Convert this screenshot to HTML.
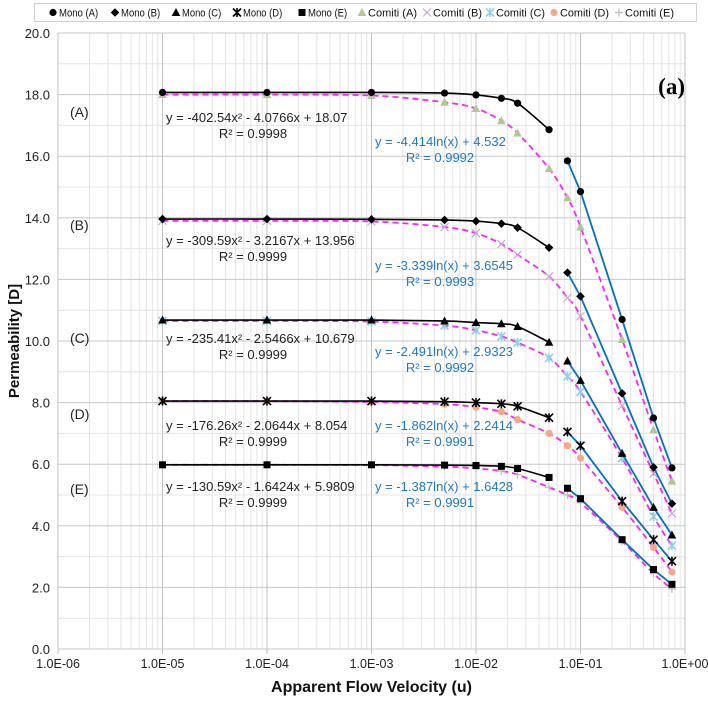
<!DOCTYPE html>
<html><head><meta charset="utf-8"><style>
body{margin:0;background:#fff;}
svg text{font-family:"Liberation Sans",sans-serif;}
</style></head><body>
<svg id="chart" width="708" height="698" viewBox="0 0 708 698" xmlns="http://www.w3.org/2000/svg">
<g id="grid"></g>
<g id="axes"></g>
<g id="series"></g>
<g id="ann">
<text x="685" y="94" text-anchor="end" font-family="Liberation Serif" font-weight="bold" font-size="23" style="font-family:'Liberation Serif',serif">(a)</text>
</g>
<g id="legend"></g>
</svg>
<script>
const xVals=[1e-5,1e-4,1e-3,5e-3,1e-2,1.75e-2,2.5e-2,5e-2,7.5e-2,0.1,0.25,0.5,0.75];
const nPoly=8;
const monoA=[18.07,18.07,18.07,18.05,17.99,17.88,17.72,16.86,15.85,14.85,10.7,7.5,5.88];
const monoB=[13.96,13.96,13.95,13.93,13.89,13.81,13.68,13.03,12.22,11.45,8.3,5.9,4.72];
const monoC=[10.68,10.68,10.68,10.65,10.6,10.56,10.47,9.96,9.35,8.72,6.35,4.6,3.7];
const monoD=[8.05,8.05,8.05,8.03,8.0,7.96,7.88,7.51,7.05,6.6,4.8,3.55,2.85];
const monoE=[5.98,5.98,5.98,5.97,5.96,5.93,5.86,5.57,5.22,4.88,3.55,2.58,2.1];
const comA=[18.0,18.0,17.97,17.75,17.55,17.15,16.75,15.6,14.65,13.7,10.05,7.12,5.45];
const comB=[13.9,13.9,13.88,13.7,13.5,13.15,12.8,12.1,11.4,10.8,7.9,5.7,4.4];
const comC=[10.65,10.65,10.63,10.5,10.35,10.15,9.95,9.45,8.85,8.35,6.2,4.3,3.35];
const comD=[8.05,8.05,8.02,7.95,7.85,7.7,7.45,7.0,6.6,6.2,4.6,3.3,2.5];
const comE=[5.98,5.98,5.97,5.92,5.86,5.78,5.66,5.25,5.0,4.75,3.5,2.45,1.95];
const yTicks=[0,2,4,6,8,10,12,14,16,18,20];
const xTickLabels=["1.0E-06","1.0E-05","1.0E-04","1.0E-03","1.0E-02","1.0E-01","1.0E+00"];

const NS="http://www.w3.org/2000/svg";
const L=58,R=685,T=33,B=649;
const X=v=>L+(Math.log10(v)+6)*(R-L)/6;
const Y=v=>B-v*(B-T)/20;
function mk(tag,attrs,parent){const e=document.createElementNS(NS,tag);for(const k in attrs)e.setAttribute(k,attrs[k]);parent.appendChild(e);return e;}
const grid=document.getElementById('grid'),axes=document.getElementById('axes'),ser=document.getElementById('series'),leg=document.getElementById('legend');
for(let v=1;v<20;v+=2){const l=mk('line',{x1:L,x2:R,y1:Y(v),y2:Y(v),stroke:'#e4e4e4','stroke-width':1},grid);

}
for(let d=-6;d<0;d++)for(let m=2;m<10;m++){const xx=X(m*Math.pow(10,d));const l=mk('line',{x1:xx,x2:xx,y1:T,y2:B,stroke:'#e4e4e4','stroke-width':1},grid);

}
yTicks.forEach(v=>{const l=mk('line',{x1:L,x2:R,y1:Y(v),y2:Y(v),stroke:'#c8c8c8','stroke-width':1},grid);


const t=mk('text',{x:L-8,y:Y(v)+5,'text-anchor':'end','font-size':13,fill:'#222'},axes);t.textContent=v.toFixed(1);

});
xTickLabels.forEach((s,i)=>{const xx=L+i*(R-L)/6;const l=mk('line',{x1:xx,x2:xx,y1:T,y2:B+5,stroke:'#c0c0c0','stroke-width':1},grid);


const t=mk('text',{x:xx,y:B+19,'text-anchor':'middle','font-size':12.5,fill:'#222'},axes);t.textContent=s;

});
let yt=mk('text',{x:0,y:0,'text-anchor':'middle','font-size':15,'font-weight':'bold',fill:'#111',transform:`translate(19,${(T+B)/2}) rotate(-90)`},axes);yt.textContent='Permeability [D]';


let xt=mk('text',{x:(L+R)/2,y:692,'text-anchor':'middle','font-size':16,'font-weight':'bold',fill:'#111'},axes);xt.textContent='Apparent Flow Velocity (u)';



function smooth(pts){let d=`M${pts[0][0]},${pts[0][1]}`;for(let i=0;i<pts.length-1;i++){const p0=pts[i-1]||pts[i],p1=pts[i],p2=pts[i+1],p3=pts[i+2]||p2;
d+=` C${p1[0]+(p2[0]-p0[0])/6},${p1[1]+(p2[1]-p0[1])/6} ${p2[0]-(p3[0]-p1[0])/6},${p2[1]-(p3[1]-p1[1])/6} ${p2[0]},${p2[1]}`;}return d;}
function marker(type,x,y,color,g){let e;
if(type==='circle')e=mk('circle',{cx:x,cy:y,r:3.6,fill:color},g);
else if(type==='diamond')e=mk('path',{d:`M${x},${y-4.3}L${x+4.3},${y}L${x},${y+4.3}L${x-4.3},${y}Z`,fill:color},g);
else if(type==='triangle')e=mk('path',{d:`M${x},${y-4.5}L${x+4.3},${y+3.5}L${x-4.3},${y+3.5}Z`,fill:color},g);
else if(type==='square')e=mk('rect',{x:x-3.5,y:y-3.5,width:7,height:7,fill:color},g);
else if(type==='star')e=mk('path',{d:`M${x-4},${y-4}L${x+4},${y+4}M${x+4},${y-4}L${x-4},${y+4}M${x},${y-4.5}L${x},${y+4.5}`,stroke:color,'stroke-width':1.6,fill:'none'},g);
else if(type==='x')e=mk('path',{d:`M${x-4},${y-4}L${x+4},${y+4}M${x+4},${y-4}L${x-4},${y+4}`,stroke:color,'stroke-width':1.2,fill:'none'},g);
else if(type==='plus')e=mk('path',{d:`M${x-4},${y}L${x+4},${y}M${x},${y-4}L${x},${y+4}`,stroke:color,'stroke-width':1.2,fill:'none'},g);
return e;}
const comiti=[[comA,'triangle','#b3c796'],[comB,'x','#c8a8d8'],[comC,'star','#8fd0e6'],[comD,'circle','#f5a88a'],[comE,'plus','#bbbbbb']];
const mono=[[monoA,'circle'],[monoB,'diamond'],[monoC,'triangle'],[monoD,'star'],[monoE,'square']];
comiti.forEach(([arr,t,c],k)=>{const pts=xVals.map((v,i)=>[X(v),Y(arr[i])]);
const p=mk('path',{d:smooth(pts),fill:'none',stroke:'#ff22ff','stroke-width':1.8,'stroke-dasharray':'6,4'},ser);

});
comiti.forEach(([arr,t,c])=>{xVals.forEach((v,i)=>{const m=marker(t,X(v),Y(arr[i]),c,ser);

});});
mono.forEach(([arr,t])=>{const pts=xVals.slice(0,nPoly).map((v,i)=>[X(v),Y(arr[i])]);
const p=mk('path',{d:smooth(pts),fill:'none',stroke:'#000','stroke-width':1.6},ser);


const lp=xVals.slice(nPoly).map((v,i)=>X(v)+','+Y(arr[i+nPoly])).join(' ');
const l=mk('polyline',{points:lp,fill:'none',stroke:'#0070c0','stroke-width':1.8},ser);


xVals.forEach((v,i)=>{const m=marker(t,X(v),Y(arr[i]),'#000',ser);

});});

const ann=document.getElementById('ann');
const labs=[['(A)',112],['(B)',225],['(C)',338],['(D)',414],['(E)',489]];
labs.forEach(([s,y])=>{const t=mk('text',{x:70,y:y+5,'font-size':14,fill:'#222'},ann);t.textContent=s;

});
const eqs=[['y = -402.54x² - 4.0766x + 18.07','R² = 0.9998',117,'y = -4.414ln(x) + 4.532','R² = 0.9992',141],
['y = -309.59x² - 3.2167x + 13.956','R² = 0.9999',240,'y = -3.339ln(x) + 3.6545','R² = 0.9993',265],
['y = -235.41x² - 2.5466x + 10.679','R² = 0.9999',338,'y = -2.491ln(x) + 2.9323','R² = 0.9992',351],
['y = -176.26x² - 2.0644x + 8.054','R² = 0.9999',425,'y = -1.862ln(x) + 2.2414','R² = 0.9991',425],
['y = -130.59x² - 1.6424x + 5.9809','R² = 0.9999',486,'y = -1.387ln(x) + 1.6428','R² = 0.9991',486]];
eqs.forEach(([a,b,y1,c,d,y2])=>{
let t=mk('text',{x:166,y:y1+5,'font-size':13,fill:'#222'},ann);t.textContent=a;


t=mk('text',{x:253,y:y1+21,'text-anchor':'middle','font-size':13,fill:'#222'},ann);t.textContent=b;


t=mk('text',{x:375,y:y2+5,'font-size':13,fill:'#1f78c8'},ann);t.textContent=c;


t=mk('text',{x:440,y:y2+21,'text-anchor':'middle','font-size':13,fill:'#1f78c8'},ann);t.textContent=d;

});

mk('rect',{x:34.5,y:3.5,width:662,height:18,fill:'#fff',stroke:'#d0d0d0'},leg);
const legItems=[['circle','#000','Mono (A)',53],['diamond','#000','Mono (B)',115],['triangle','#000','Mono (C)',176],['star','#000','Mono (D)',237],['square','#000','Mono (E)',302],
['triangle','#b3c796','Comiti (A)',362],['x','#c8a8d8','Comiti (B)',427],['star','#8fd0e6','Comiti (C)',490],['circle','#f5a88a','Comiti (D)',554],['plus','#bbbbbb','Comiti (E)',619]];
legItems.forEach(([t,c,s,x])=>{const g=mk('g',{},leg);


marker(t,x,12.5,c,g);
const tx=mk('text',{x:x+6,y:16.5,'font-size':11,fill:'#111','textLength':s.length*4.9,'lengthAdjust':'spacingAndGlyphs'},g);tx.textContent=s;});
</script>
</body></html>
